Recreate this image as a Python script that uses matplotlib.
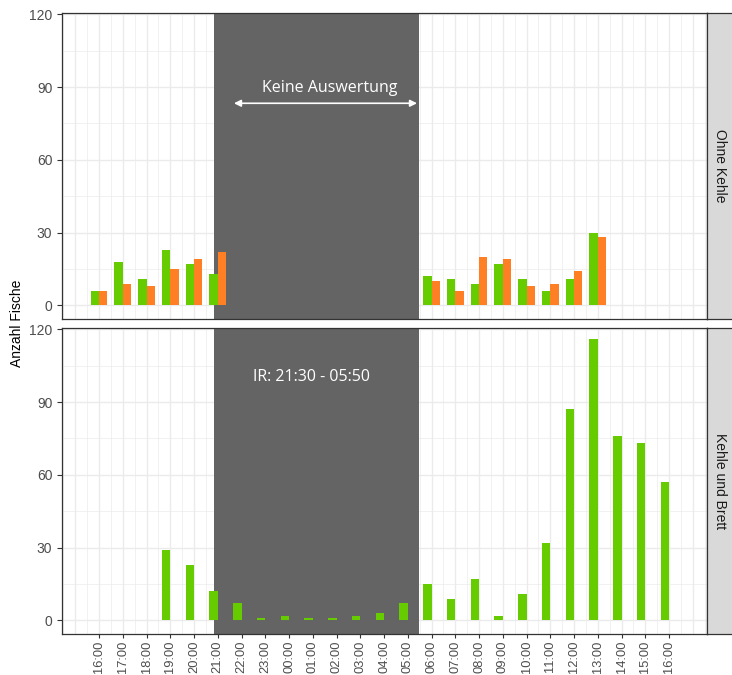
import numpy as np
import matplotlib.pyplot as plt

plt.rcParams['font.family'] = ['Liberation Sans', 'DejaVu Sans']

# Data
hours = ['16:00', '17:00', '18:00', '19:00', '20:00', '21:00', '22:00', '23:00',
         '00:00', '01:00', '02:00', '03:00', '04:00', '05:00', '06:00', '07:00',
         '08:00', '09:00', '10:00', '11:00', '12:00', '13:00', '14:00', '15:00', '16:00']

# Ohne Kehle (NaN = no bar)
ohne_green = [6, 18, 11, 23, 17, 13, np.nan, np.nan, np.nan, np.nan, np.nan, np.nan, np.nan, np.nan,
              12, 11, 9, 17, 11, 6, 11, 30, np.nan, np.nan, np.nan]
ohne_orange = [6, 9, 8, 15, 19, 22, np.nan, np.nan, np.nan, np.nan, np.nan, np.nan, np.nan, np.nan,
               10, 6, 20, 19, 8, 9, 14, 28, np.nan, np.nan, np.nan]

# Kehle und Brett
brett_green = [np.nan, np.nan, np.nan, 29, 23, 12, 7, 1, 2, 1, 1, 2, 3, 7,
               15, 9, 17, 2, 11, 32, 87, 116, 76, 73, 57]

panels = ['Ohne Kehle', 'Kehle und Brett']
ir_span = (4.84, 13.47)

green = '#66CC00'
orange = '#FF7F24'
shade = '#646464'

x = np.arange(len(hours))
w = 0.35

fig = plt.figure(figsize=(7.32, 6.75), dpi=100)
W, H = 732, 675

def box(l, t, r, b):
    return [l / W, 1 - b / H, (r - l) / W, (b - t) / H]

ax1 = fig.add_axes(box(62, 13, 707, 319))
ax2 = fig.add_axes(box(62, 328, 707, 634))

for ax in (ax1, ax2):
    ax.set_xlim(-1.56, 25.6)
    ax.set_ylim(-5.6, 120.5)
    for v in np.arange(-1.5, 26, 0.5):
        lw = 1.0 if v == int(v) else 0.5
        ax.axvline(v, color='#EBEBEB', lw=lw, zorder=0)
    for v in np.arange(0, 121, 15):
        lw = 1.0 if v % 30 == 0 else 0.5
        ax.axhline(v, color='#EBEBEB', lw=lw, zorder=0)
    ax.axvspan(*ir_span, color=shade, zorder=1, lw=0)
    ax.set_yticks([0, 30, 60, 90, 120])
    ax.set_xticks(x)
    ax.tick_params(axis='y', colors='#333333', length=3.5, width=0.8,
                   labelcolor='#4D4D4D', labelsize=10)
    for s in ax.spines.values():
        s.set_color('#333333')
        s.set_linewidth(0.9)
    ax.set_facecolor('white')

ax1.set_xticklabels([])
ax1.tick_params(axis='x', length=0)
ax2.set_xticklabels(hours, rotation=90)
ax2.tick_params(axis='x', colors='#333333', length=3, width=0.8, pad=2,
                labelcolor='#4D4D4D', labelsize=9.3)

ax1.bar(x - w / 2, ohne_green, width=w, color=green, zorder=2)
ax1.bar(x + w / 2, ohne_orange, width=w, color=orange, zorder=2)
ax2.bar(x - w / 2, brett_green, width=w, color=green, zorder=2)

# annotations
ax1.annotate('', xy=(5.68, 83.3), xytext=(13.39, 83.3),
             arrowprops=dict(arrowstyle='<|-|>', color='white', lw=1.2,
                             mutation_scale=10, shrinkA=0, shrinkB=0), zorder=3)
ax1.text(9.73, 89.6, 'Keine Auswertung', color='white', ha='center', va='center',
         fontsize=11.5, fontfamily='Open Sans', zorder=3)
ax2.text(8.93, 100.5, 'IR: 21:30 - 05:50', color='white', ha='center', va='center',
         fontsize=11.5, fontfamily='Open Sans', zorder=3)

# strips
for (t, b), name in zip([(13, 319), (328, 634)], panels):
    sax = fig.add_axes(box(707, t, 740, b))
    sax.set_facecolor('#D9D9D9')
    sax.set_xticks([])
    sax.set_yticks([])
    for s in sax.spines.values():
        s.set_color('#333333')
        s.set_linewidth(0.9)
    sax.text(12.5 / 33, 0.5, name, rotation=270, ha='center', va='center',
             transform=sax.transAxes, fontsize=10, color='#1A1A1A')

fig.text(17 / W, 1 - 323 / H, 'Anzahl Fische', rotation=90, ha='center', va='center',
         fontsize=10, color='black')

fig.savefig('out.png', dpi=100)
